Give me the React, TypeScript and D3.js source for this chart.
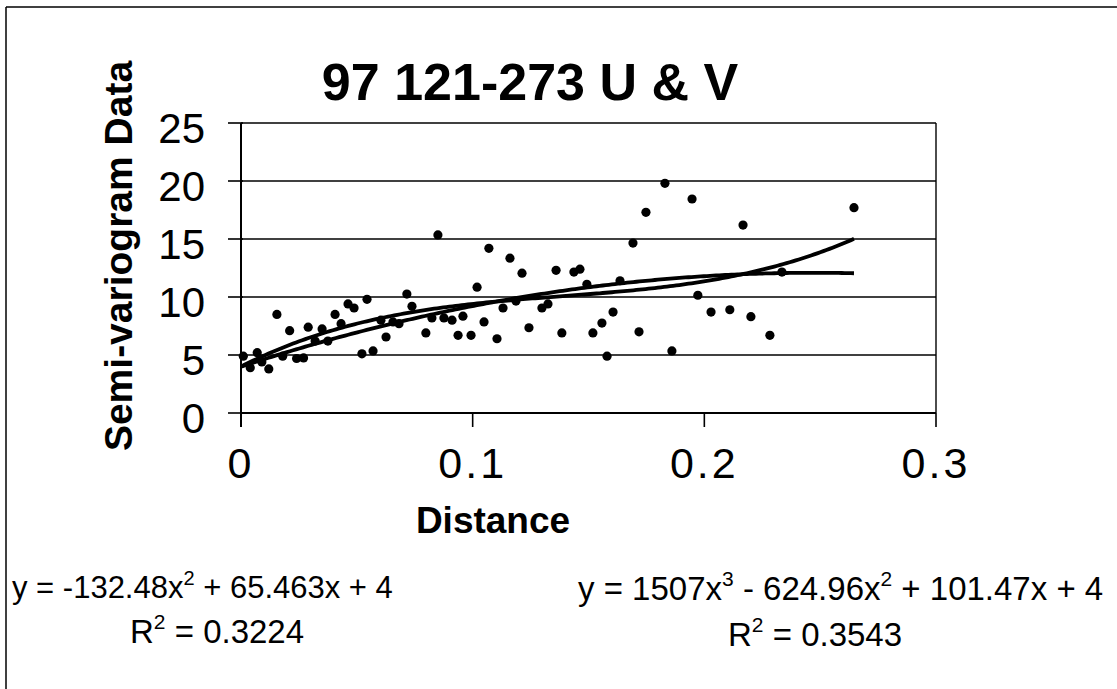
import React from 'react';
import * as d3 from 'd3';

const distance = [
  0.001, 0.004, 0.007, 0.009, 0.012, 0.0155, 0.018, 0.021, 0.024, 0.027,
  0.029, 0.032, 0.035, 0.0375, 0.0406, 0.0432, 0.0462, 0.0488, 0.0522, 0.0544,
  0.057, 0.0604, 0.0626, 0.0656, 0.0682, 0.0716, 0.0738, 0.0798, 0.0824, 0.085,
  0.0876, 0.0911, 0.0937, 0.0958, 0.0993, 0.1019, 0.1049, 0.107, 0.1105, 0.1131,
  0.1161, 0.1187, 0.1213, 0.1243, 0.1299, 0.1325, 0.136, 0.1385, 0.1437, 0.1463,
  0.1493, 0.1519, 0.1558, 0.158, 0.1606, 0.1636, 0.1692, 0.1718, 0.1748, 0.183,
  0.186, 0.1947, 0.1972, 0.2029, 0.211, 0.2167, 0.2201, 0.2283, 0.2335, 0.2646,
];
const semivariogram = [
  4.9, 3.9, 5.2, 4.4, 3.8, 8.5, 4.9, 7.1, 4.7, 4.75,
  7.4, 6.2, 7.25, 6.2, 8.5, 7.7, 9.4, 9.05, 5.1, 9.8,
  5.35, 8.0, 6.55, 7.85, 7.7, 10.25, 9.2, 6.9, 8.2, 15.35,
  8.2, 8.0, 6.7, 8.35, 6.7, 10.85, 7.85, 14.2, 6.4, 9.05,
  13.35, 9.65, 12.05, 7.35, 9.05, 9.4, 12.3, 6.9, 12.15, 12.4,
  11.1, 6.9, 7.75, 4.9, 8.7, 11.4, 14.65, 7.0, 17.3, 19.8,
  5.35, 18.45, 10.15, 8.7, 8.9, 16.2, 8.3, 6.7, 12.15, 17.7,
];
const yTicks = [0, 5, 10, 15, 20, 25];
const xTicks = [0, 0.1, 0.2, 0.3];
const xTickLabels = ['0', '0.1', '0.2', '0.3'];
const quadCoef = [4, 65.463, -132.48];
const cubicCoef = [4, 101.47, -624.96, 1507];

const FONT = "'Liberation Sans', Arial, Helvetica, sans-serif";

function poly(c: number[], v: number) {
  return c.reduce((s, a, i) => s + a * Math.pow(v, i), 0);
}

export default function App() {
  const W = 1117, H = 689;
  const x = d3.scaleLinear().domain([0, 0.3]).range([241, 936]);
  const y = d3.scaleLinear().domain([0, 25]).range([413, 123]);
  const xMax = d3.max(distance) as number;
  const samples = d3.range(0, 201).map((i) => (xMax * i) / 200);
  const line = d3.line<number[]>().x((d) => x(d[0])).y((d) => y(d[1]));
  const quadPath = line(samples.map((v) => [v, poly(quadCoef, v)])) || '';
  const cubicPath = line(samples.map((v) => [v, poly(cubicCoef, v)])) || '';

  return (
    <svg width={W} height={H} style={{ position: 'absolute', left: 0, top: 0, background: '#fff' }} fontFamily={FONT}>
      <rect x={0} y={0} width={W} height={H} fill="#fff" />
      {/* outer frame */}
      <line x1={6} y1={7} x2={W} y2={7} stroke="#000" strokeWidth={1.5} />
      <line x1={6} y1={7} x2={6} y2={H} stroke="#000" strokeWidth={1.5} />

      {/* title */}
      <text x={530} y={100} textAnchor="middle" fontWeight="bold" fontSize={52}>97 121-273 U &amp; V</text>

      {/* gridlines */}
      {yTicks.map((t) => (
        <line key={'g' + t} x1={x(0)} x2={x(0.3)} y1={y(t)} y2={y(t)} stroke="#000" strokeWidth={1.6} />
      ))}
      {/* plot border right */}
      <line x1={x(0.3)} x2={x(0.3)} y1={y(25)} y2={y(0)} stroke="#000" strokeWidth={1.4} />
      {/* y axis */}
      <line x1={x(0)} x2={x(0)} y1={y(25)} y2={y(0) + 14} stroke="#000" strokeWidth={2} />
      {yTicks.map((t) => (
        <g key={'yt' + t}>
          <line x1={x(0) - 13} x2={x(0) + 2} y1={y(t)} y2={y(t)} stroke="#000" strokeWidth={1.6} />
          <text x={205} y={y(t) + 19.5} textAnchor="end" fontSize={42}>{t}</text>
        </g>
      ))}
      {/* x axis */}
      <line x1={x(0)} x2={x(0.3)} y1={y(0)} y2={y(0)} stroke="#000" strokeWidth={2} />
      {xTicks.map((t, i) => (
        <g key={'xt' + t}>
          <line x1={x(t)} x2={x(t)} y1={y(0)} y2={y(0) + 14} stroke="#000" strokeWidth={1.6} />
          <text x={x(t)} y={478} textAnchor="middle" fontSize={43} letterSpacing={3}>{xTickLabels[i]}</text>
        </g>
      ))}

      {/* axis titles */}
      <text x={493} y={533} textAnchor="middle" fontWeight="bold" fontSize={37}>Distance</text>
      <text transform="translate(132,256) rotate(-90)" textAnchor="middle" fontWeight="bold" fontSize={39}>Semi-variogram Data</text>

      {/* points */}
      {distance.map((d, i) => (
        <circle key={'p' + i} cx={x(d)} cy={y(semivariogram[i])} r={4.6} fill="#000" />
      ))}

      {/* trendlines */}
      <path d={quadPath} fill="none" stroke="#000" strokeWidth={3.8} strokeLinejoin="round" />
      <path d={cubicPath} fill="none" stroke="#000" strokeWidth={3.8} strokeLinejoin="round" />

      {/* equations */}
      <text x={12} y={598} fontSize={31}>
        y = -132.48x<tspan dy={-13} fontSize={20}>2</tspan><tspan dy={13}> + 65.463x + 4</tspan>
      </text>
      <text x={130} y={643} fontSize={33}>
        R<tspan dy={-14} fontSize={21}>2</tspan><tspan dy={14}> = 0.3224</tspan>
      </text>
      <text x={578} y={600} fontSize={33}>
        y = 1507x<tspan dy={-14} fontSize={21}>3</tspan><tspan dy={14}> - 624.96x</tspan><tspan dy={-14} fontSize={21}>2</tspan><tspan dy={14}> + 101.47x + 4</tspan>
      </text>
      <text x={728} y={646} fontSize={33}>
        R<tspan dy={-14} fontSize={21}>2</tspan><tspan dy={14}> = 0.3543</tspan>
      </text>
    </svg>
  );
}
